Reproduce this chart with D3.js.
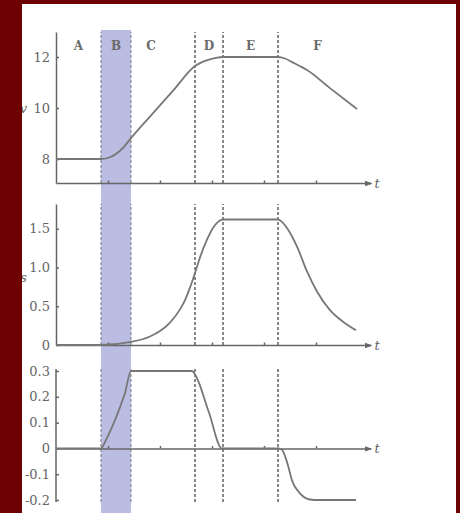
<!DOCTYPE html>
<html>
<head>
<meta charset="utf-8">
<script src="https://cdn.jsdelivr.net/npm/d3@7"></script>
<style>
  body { margin: 0; background: #fff; }
  svg { display: block; }
  .tick text { font-family: "DejaVu Serif", serif; font-size: 13px; fill: #666; }
</style>
</head>
<body>
<div class="vis"></div>
<script>
// region boundaries on the t axis (A|B, B|C, C|D, D|E, E|F)
const regionBounds = [0.865, 1.442, 2.673, 3.212, 4.269];
const regionNames = ["A", "B", "C", "D", "E", "F"];
const tTicks = [1, 2, 3, 4, 5];

// top panel: v(t)
const vT   = [0, 0.865, 1.01, 1.154, 1.298, 1.442, 1.85, 2.26, 2.673, 2.808, 2.942, 3.077, 3.212, 4.269, 4.404, 4.538, 4.692, 4.827, 5.269, 5.788];
const vVal = [8, 8, 8.05, 8.2, 8.46, 8.82, 9.76, 10.7, 11.65, 11.8, 11.9, 11.97, 12, 12, 11.94, 11.8, 11.64, 11.49, 10.78, 9.96];
const vTicks = [8, 10, 12];

// middle panel
const sT   = [0, 0.865, 1.442, 1.808, 2.0, 2.192, 2.385, 2.481, 2.577, 2.673, 2.769, 2.904, 3.019, 3.115, 3.212, 4.269, 4.346, 4.442, 4.635, 4.827, 5.019, 5.269, 5.519, 5.769];
const sVal = [0, 0, 0.04, 0.11, 0.18, 0.29, 0.46, 0.58, 0.74, 0.93, 1.13, 1.36, 1.51, 1.59, 1.62, 1.62, 1.59, 1.51, 1.27, 0.95, 0.69, 0.45, 0.30, 0.19];
const sTicks = [0, 0.5, 1.0, 1.5];

// bottom panel
const aT   = [0, 0.865, 0.942, 1.038, 1.135, 1.231, 1.327, 1.442, 2.615, 2.692, 2.94, 3.192, 4.269, 4.346, 4.404, 4.462, 4.538, 4.692, 4.885, 5.038, 5.769];
const aVal = [0, 0, 0.025, 0.065, 0.11, 0.16, 0.215, 0.3, 0.3, 0.28, 0.14, 0, 0, -0.005, -0.03, -0.066, -0.124, -0.174, -0.198, -0.2, -0.2];
const aTicks = [-0.2, -0.1, 0, 0.1, 0.2, 0.3];

const W = 460, H = 513;
const ink = "#666", curveInk = "#777";

const svg = d3.select(".vis").append("svg")
    .attr("width", W)
    .attr("height", H);

svg.append("defs").append("marker")
    .attr("id", "arrow")
    .attr("viewBox", "0 0 6 6")
    .attr("refX", 5).attr("refY", 3)
    .attr("markerWidth", 5).attr("markerHeight", 5)
    .attr("orient", "auto")
    .append("path")
    .attr("d", "M0,0.8L6,3L0,5.2Z")
    .attr("fill", ink);

const x = d3.scaleLinear().domain([0, 6.05]).range([56, 370.6]);

const panels = [
    { t: vT, v: vVal, ticks: vTicks, y: d3.scaleLinear().domain([7.06, 12.98]).range([183, 32]), base: 7.06, fmt: d => d, label: "v" },
    { t: sT, v: sVal, ticks: sTicks, y: d3.scaleLinear().domain([0, 1.82]).range([345, 204]), base: 0, fmt: d => d === 0 ? "0" : d.toFixed(1), label: "s" },
    { t: aT, v: aVal, ticks: aTicks, y: d3.scaleLinear().domain([-0.2, 0.3]).range([500, 371]), base: 0, fmt: d => d === 0 ? "0" : d.toFixed(1), label: "" }
];

// shaded region B
svg.append("rect")
    .attr("x", x(regionBounds[0]))
    .attr("y", 30)
    .attr("width", x(regionBounds[1]) - x(regionBounds[0]))
    .attr("height", H - 30)
    .attr("fill", "#bbbce2");

panels.forEach(function (p, k) {
    var g = svg.append("g");
    var y0 = p.y.range()[0], y1 = p.y.range()[1];
    if (k === 2) { y0 = 502; y1 = 369; }

    // dashed region separators
    g.selectAll("line.sep")
        .data(regionBounds)
        .enter().append("line")
        .attr("x1", d => x(d)).attr("x2", d => x(d))
        .attr("y1", y0).attr("y2", y1)
        .attr("stroke", (d, i) => i < 2 ? "#7a7a7a" : "#555")
        .attr("stroke-width", (d, i) => i < 2 ? 1 : 1.4)
        .attr("stroke-dasharray", "3,2");

    // y axis
    var yAxis = g.append("g")
        .attr("transform", "translate(" + x(0) + ",0)")
        .call(d3.axisLeft(p.y).tickValues(p.ticks).tickFormat(p.fmt)
            .tickSizeInner(-3).tickSizeOuter(0).tickPadding(6));
    yAxis.selectAll("path, line").attr("stroke", ink).attr("stroke-width", 1.5);
    if (k === 2) yAxis.select(".domain").attr("d", "M0,502V369");

    // t axis
    var xAxis = g.append("g")
        .attr("transform", "translate(0," + p.y(p.base) + ")")
        .call(d3.axisBottom(x).tickValues(tTicks).tickFormat("")
            .tickSizeInner(-2.5).tickSizeOuter(0));
    xAxis.selectAll("path, line").attr("stroke", ink).attr("stroke-width", 1.5);
    xAxis.select(".domain").attr("marker-end", "url(#arrow)");

    g.append("text")
        .attr("x", x.range()[1] + 4)
        .attr("y", p.y(p.base) + 5)
        .attr("font-family", "DejaVu Serif, serif")
        .attr("font-style", "italic")
        .attr("font-size", 13)
        .attr("fill", ink)
        .text("t");

    // curve
    var pts = p.t.map((t, i) => [t, p.v[i]]);
    g.append("path")
        .datum(pts)
        .attr("fill", "none")
        .attr("stroke", curveInk)
        .attr("stroke-width", 1.8)
        .attr("stroke-linejoin", "round")
        .attr("d", d3.line()
            .x(d => x(d[0]))
            .y(d => p.y(d[1]))
            .curve(d3.curveMonotoneX));

    if (p.label) {
        g.append("text")
            .attr("x", 27)
            .attr("y", k === 0 ? 113 : 282)
            .attr("text-anchor", "end")
            .attr("font-family", "DejaVu Serif, serif")
            .attr("font-style", "italic")
            .attr("font-size", 13)
            .attr("fill", ink)
            .text(p.label);
    }
});

// region letters
var edges = [0].concat(regionBounds, [5.79]);
svg.selectAll("text.region")
    .data(regionNames)
    .enter().append("text")
    .attr("class", "region")
    .attr("x", function (d, i) {
        if (d === "C") return x(edges[i]) + 20;
        return (x(edges[i]) + x(edges[i + 1])) / 2;
    })
    .attr("y", 50)
    .attr("text-anchor", "middle")
    .attr("font-family", "DejaVu Serif, serif")
    .attr("font-weight", "bold")
    .attr("font-size", 12)
    .attr("fill", "#6a6a6a")
    .text(d => d);

// dark red frame
svg.append("path")
    .attr("d", "M0,0H" + W + "V" + H + "H0Z M22,4V" + H + "H456V4Z")
    .attr("fill-rule", "evenodd")
    .attr("fill", "#6e0202");
</script>
</body>
</html>
